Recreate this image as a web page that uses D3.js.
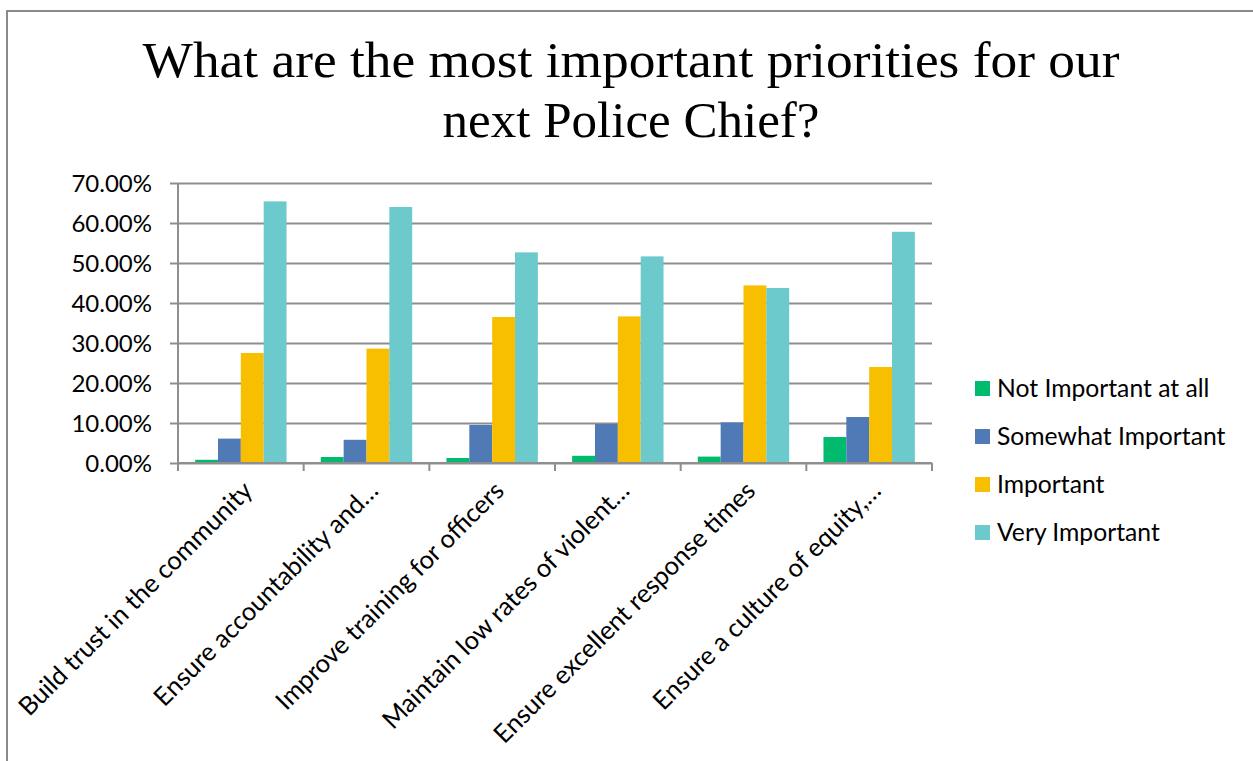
<!DOCTYPE html>
<html>
<head>
<meta charset="utf-8">
<script src="https://cdn.jsdelivr.net/npm/d3@7"></script>
<style>
  html, body { margin: 0; padding: 0; background: #fff; }
  svg { display: block; }
</style>
</head>
<body>
<svg id="chart" width="1253" height="761"></svg>
<script>
const titleLines = ["What are the most important priorities for our", "next Police Chief?"];
const categories = [
  "Build trust in the community",
  "Ensure accountability and…",
  "Improve training for officers",
  "Maintain low rates of violent…",
  "Ensure excellent response times",
  "Ensure a culture of equity,…"
];
const seriesNames = ["Not Important at all", "Somewhat Important", "Important", "Very Important"];
const seriesColors = ["#00BA6D", "#4F7AB6", "#F8BE00", "#6CC9CC"];
const notImportant = [0.008, 0.015, 0.0125, 0.018, 0.016, 0.065];
const somewhatImportant = [0.061, 0.058, 0.095, 0.0975, 0.1015, 0.115];
const important = [0.275, 0.286, 0.365, 0.3665, 0.444, 0.240];
const veryImportant = [0.654, 0.640, 0.5265, 0.5165, 0.4375, 0.578];
const yTicks = [0, 0.1, 0.2, 0.3, 0.4, 0.5, 0.6, 0.7];

const seriesValues = [notImportant, somewhatImportant, important, veryImportant];

const svg = d3.select("#chart");
const W = 1253, H = 761;
const plot = { left: 178, right: 932, top: 183, bottom: 463 };
const FONT = "Lato, 'Open Sans', sans-serif";
const GRID = "#8E8E8E";

// frame (top and left edges)
svg.append("line").attr("x1", 7).attr("x2", W).attr("y1", 11).attr("y2", 11)
  .attr("stroke", "#8A8A8A").attr("stroke-width", 2);
svg.append("line").attr("x1", 7).attr("x2", 7).attr("y1", 10).attr("y2", H)
  .attr("stroke", "#8A8A8A").attr("stroke-width", 2);

// title
const tg = svg.append("g");
const titleW = [977, 377];
titleLines.forEach((t, i) => {
  tg.append("text")
    .attr("x", 631).attr("y", 77 + i * 60)
    .attr("text-anchor", "middle")
    .attr("font-family", "'Liberation Serif', 'DejaVu Serif', serif")
    .attr("font-size", 51)
    .attr("fill", "#000")
    .attr("textLength", titleW[i])
    .attr("lengthAdjust", "spacingAndGlyphs")
    .text(t);
});

const x0 = d3.scaleBand().domain(categories).range([plot.left, plot.right]).paddingInner(0).paddingOuter(0);
const gapFrac = 1.5 / 5.5;
const x1 = d3.scaleBand().domain(d3.range(seriesNames.length))
  .range([x0.bandwidth() * gapFrac / 2, x0.bandwidth() * (1 - gapFrac / 2)]).padding(0);
const y = d3.scaleLinear().domain([0, 0.7]).range([plot.bottom, plot.top]);

// gridlines + y axis
const yAxis = d3.axisLeft(y).tickValues(yTicks).tickFormat(d3.format(".2%"))
  .tickSize(-(plot.right - plot.left)).tickSizeOuter(0).tickPadding(26);
const ya = svg.append("g").attr("transform", `translate(${plot.left},0)`).call(yAxis);
ya.select(".domain").remove();
ya.selectAll(".tick line").attr("stroke", GRID).attr("stroke-width", 2);
ya.selectAll(".tick").append("line").attr("x1", -8).attr("x2", 0).attr("stroke", GRID).attr("stroke-width", 2);
ya.selectAll(".tick text").attr("font-family", FONT).attr("font-size", 24).attr("fill", "#000").attr("dy", "0.34em");

// y axis line
svg.append("line").attr("x1", plot.left).attr("x2", plot.left).attr("y1", plot.top).attr("y2", plot.bottom)
  .attr("stroke", GRID).attr("stroke-width", 2);

// bars
const groups = svg.append("g").selectAll("g").data(categories).join("g")
  .attr("transform", d => `translate(${x0(d)},0)`);
groups.selectAll("rect")
  .data((d, i) => seriesValues.map((s, k) => ({ k, v: s[i] })))
  .join("rect")
  .attr("x", d => x1(d.k))
  .attr("width", x1.bandwidth())
  .attr("y", d => y(d.v))
  .attr("height", d => y(0) - y(d.v))
  .attr("fill", d => seriesColors[d.k]);

// x axis
const xa = svg.append("g").attr("transform", `translate(0,${plot.bottom})`);
xa.append("line").attr("x1", plot.left).attr("x2", plot.right).attr("stroke", GRID).attr("stroke-width", 2);
const bounds = categories.map(c => x0(c)).concat([plot.right]);
xa.selectAll("line.tk").data(bounds).join("line").attr("class", "tk")
  .attr("x1", d => d).attr("x2", d => d).attr("y1", 0).attr("y2", 8)
  .attr("stroke", GRID).attr("stroke-width", 2);
xa.selectAll("text").data(categories).join("text")
  .attr("transform", d => `translate(${x0(d) + x0.bandwidth() / 2 + 7},${23}) rotate(-45)`)
  .attr("text-anchor", "end")
  .attr("dy", "0.35em")
  .attr("font-family", FONT).attr("font-size", 25.5).attr("fill", "#000")
  .text(d => d);

// legend
const lg = svg.append("g").attr("transform", "translate(975,388)");
const li = lg.selectAll("g").data(seriesNames).join("g")
  .attr("transform", (d, i) => `translate(0,${i * 48})`);
li.append("rect").attr("x", 0).attr("y", -7).attr("width", 15).attr("height", 15)
  .attr("fill", (d, i) => seriesColors[i]);
li.append("text").attr("x", 22).attr("dy", "0.36em")
  .attr("font-family", FONT).attr("font-size", 24.7).attr("fill", "#000")
  .text(d => d);
</script>
</body>
</html>
